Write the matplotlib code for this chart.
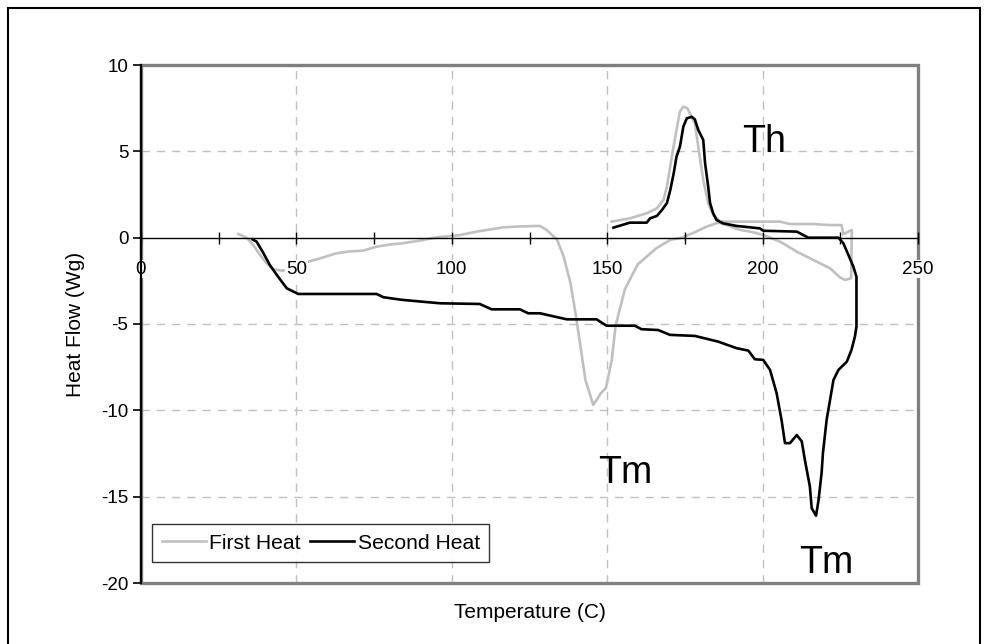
import matplotlib
matplotlib.use("Agg")
import matplotlib.pyplot as plt
from matplotlib.patches import Rectangle

plt.rcParams['font.family'] = ['Liberation Sans', 'DejaVu Sans']
plt.rcParams['axes.unicode_minus'] = False

# ---- data (temperature in C, heat flow in W/g) ----
first_temp = [31.3, 34.0, 36.1, 38.3, 40.4, 42.6, 45.3, 48.0, 51.0, 53.8, 57.6, 63.0,
              67.0, 71.5, 75.8, 80.0, 83.9, 89.8, 95.1, 102.6, 108.0, 116.6, 122.0,
              128.4, 130.5, 133.9, 136.0, 138.2, 139.8, 141.4, 143.0, 145.0, 145.5,
              146.6, 148.0, 149.6, 151.5, 152.7, 155.7, 159.8, 165.9, 170.3, 174.0,
              178.0, 182.0, 185.7, 189.0, 192.7, 196.0, 200.2, 205.6, 211.0, 217.4,
              221.7, 224.9, 226.5, 228.5, 228.7, 226.0, 225.4, 221.7, 216.3, 208.8,
              205.6, 186.3, 184.1, 182.5, 180.9, 179.3, 178.2, 175.8, 174.5, 173.4,
              172.3, 170.8, 169.2, 168.1, 166.0, 162.7, 157.3, 151.4]
first_flow = [0.21, 0.0, -0.42, -1.0, -1.48, -1.83, -1.91, -1.85, -1.6, -1.39, -1.2, -0.9,
              -0.8, -0.75, -0.52, -0.4, -0.33, -0.17, 0.02, 0.15, 0.35, 0.6, 0.65,
              0.68, 0.45, -0.13, -1.1, -2.64, -4.38, -6.3, -8.24, -9.4, -9.69,
              -9.4, -9.0, -8.7, -7.05, -5.1, -2.98, -1.55, -0.6, -0.13, 0.0,
              0.3, 0.64, 0.87, 0.7, 0.45, 0.35, 0.16, -0.23, -0.81, -1.39,
              -1.77, -2.3, -2.45, -2.35, 0.45, 0.2, 0.73, 0.73, 0.79, 0.79,
              0.93, 0.93, 1.31, 2.0, 3.34, 5.27, 6.62, 7.49, 7.59, 7.3,
              6.24, 4.69, 2.95, 2.18, 1.7, 1.41, 1.12, 0.93]

second_temp = [35.9, 37.2, 39.4, 41.5, 43.7, 45.3, 46.9, 49.0, 50.6, 75.8, 78.0, 83.9,
               96.2, 109.0, 112.8, 121.9, 124.6, 128.4, 137.0, 146.6, 147.7, 149.8,
               158.9, 161.0, 166.4, 170.2, 178.2, 182.5, 185.7, 191.6, 195.4, 197.5,
               200.2, 202.4, 204.5, 206.1, 207.2, 208.8, 211.0, 212.6, 213.6, 215.2,
               215.8, 217.2, 218.0, 219.0, 219.4, 220.6, 221.7, 222.8, 224.4, 227.1,
               228.6, 229.7, 230.2, 230.2, 229.2, 227.6, 226.0, 224.4, 214.7, 211.0,
               200.2, 199.1, 191.6, 187.3, 185.2, 184.1, 183.1, 182.5, 181.5, 180.9,
               179.3, 178.2, 177.2, 175.6, 174.5, 173.4, 172.3, 171.4, 170.3, 169.2,
               167.6, 166.0, 163.8, 162.7, 157.3, 152.0]
second_flow = [-0.1, -0.23, -0.9, -1.6, -2.16, -2.55, -2.93, -3.12, -3.26, -3.26, -3.45, -3.6,
               -3.8, -3.84, -4.15, -4.15, -4.38, -4.38, -4.73, -4.73, -4.86, -5.1,
               -5.1, -5.3, -5.35, -5.63, -5.69, -5.88, -6.02, -6.4, -6.54, -7.04,
               -7.08, -7.66, -9.0, -10.56, -11.9, -11.9, -11.43, -11.8, -12.87, -14.4,
               -15.67, -16.1, -15.2, -13.6, -12.5, -10.55, -9.4, -8.24, -7.66, -7.18,
               -6.5, -5.73, -5.15, -2.26, -1.68, -1.0, -0.33, 0.0, 0.0, 0.35,
               0.4, 0.54, 0.68, 0.83, 1.02, 1.41, 2.0, 2.95, 4.3, 5.66,
               6.24, 6.85, 7.0, 6.91, 6.43, 5.27, 4.69, 3.73, 2.76, 2.0,
               1.6, 1.26, 1.12, 0.87, 0.87, 0.58]

x_ticks = [0, 50, 100, 150, 200, 250]
x_minor = [25, 75, 125, 175, 225]
y_ticks = [-20, -15, -10, -5, 0, 5, 10]

# annotation labels (text, temperature, heat flow)
notes = [("Th", 193.3, 4.98), ("Tm", 147.0, -14.23), ("Tm", 211.6, -19.4)]

fig = plt.figure(figsize=(9.9, 6.44), dpi=100)
ax = fig.add_axes([141 / 990, 61 / 644, 777 / 990, 518 / 644])

# dashed grid, kept under the curves
for t in x_ticks[1:-1]:
    ax.axvline(t, color='#c0c0c0', lw=1, ls=(0, (6, 5)), zorder=0.8)
for t in y_ticks[1:-1]:
    if t != 0:
        ax.axhline(t, color='#c0c0c0', lw=1, ls=(0, (6, 5)), zorder=0.8)

ax.plot(first_temp, first_flow, color='#c0c0c0', lw=1.9, label='First Heat', zorder=2)
ax.plot(second_temp, second_flow, color='black', lw=1.9, label='Second Heat', zorder=2.2)

ax.set_xlim(0, 250)
ax.set_ylim(-20, 10)

# Excel-like frame: gray box, black value axis, category axis through zero
ax.add_patch(Rectangle((0, 0), 1, 1, transform=ax.transAxes, fill=False,
                       edgecolor='#808080', lw=2.4, clip_on=False, zorder=2.4))
for side in ['top', 'right']:
    ax.spines[side].set_visible(False)
ax.spines['left'].set_color('black')
ax.spines['left'].set_linewidth(1.6)
ax.spines['left'].set_zorder(2.6)
ax.spines['bottom'].set_position(('data', 0))
ax.spines['bottom'].set_linewidth(1.0)
ax.spines['bottom'].set_zorder(2.6)
ax.set_axisbelow(False)

ax.set_xticks(x_ticks)
ax.set_xticks(x_minor, minor=True)
ax.tick_params(axis='x', which='both', direction='inout', length=9, width=1,
               labelsize=13.5, pad=12)
ax.set_yticks(y_ticks)
ax.tick_params(axis='y', direction='out', length=6, width=1.2, labelsize=13.5, pad=3)
for lab in ax.get_xticklabels():
    lab.set_bbox(dict(facecolor='white', edgecolor='none', pad=0.5))

ax.set_xlabel('Temperature (C)', fontsize=15)
ax.xaxis.set_label_coords(0.5, -0.038)
ax.set_ylabel('Heat Flow (Wg)', fontsize=15)
ax.yaxis.set_label_coords(-0.072, 0.5)

for txt, tx, ty in notes:
    ax.text(tx, ty, txt, fontsize=27, ha='left', va='baseline', zorder=4)

leg = ax.legend(loc='lower left', bbox_to_anchor=(0.0142, 0.0405), borderaxespad=0,
                ncol=2, fontsize=15.2, frameon=True, fancybox=False, handlelength=2.1,
                handletextpad=0.15, columnspacing=0.45, borderpad=0.45)
leg.get_frame().set_edgecolor('black')
leg.get_frame().set_linewidth(1.0)

# outer chart border
fig.patches.append(Rectangle((8 / 990, -0.05), 972 / 990, 1.05 - 8 / 644,
                             transform=fig.transFigure, fill=False,
                             edgecolor='black', lw=1.5))

fig.savefig('out.png', dpi=100)
